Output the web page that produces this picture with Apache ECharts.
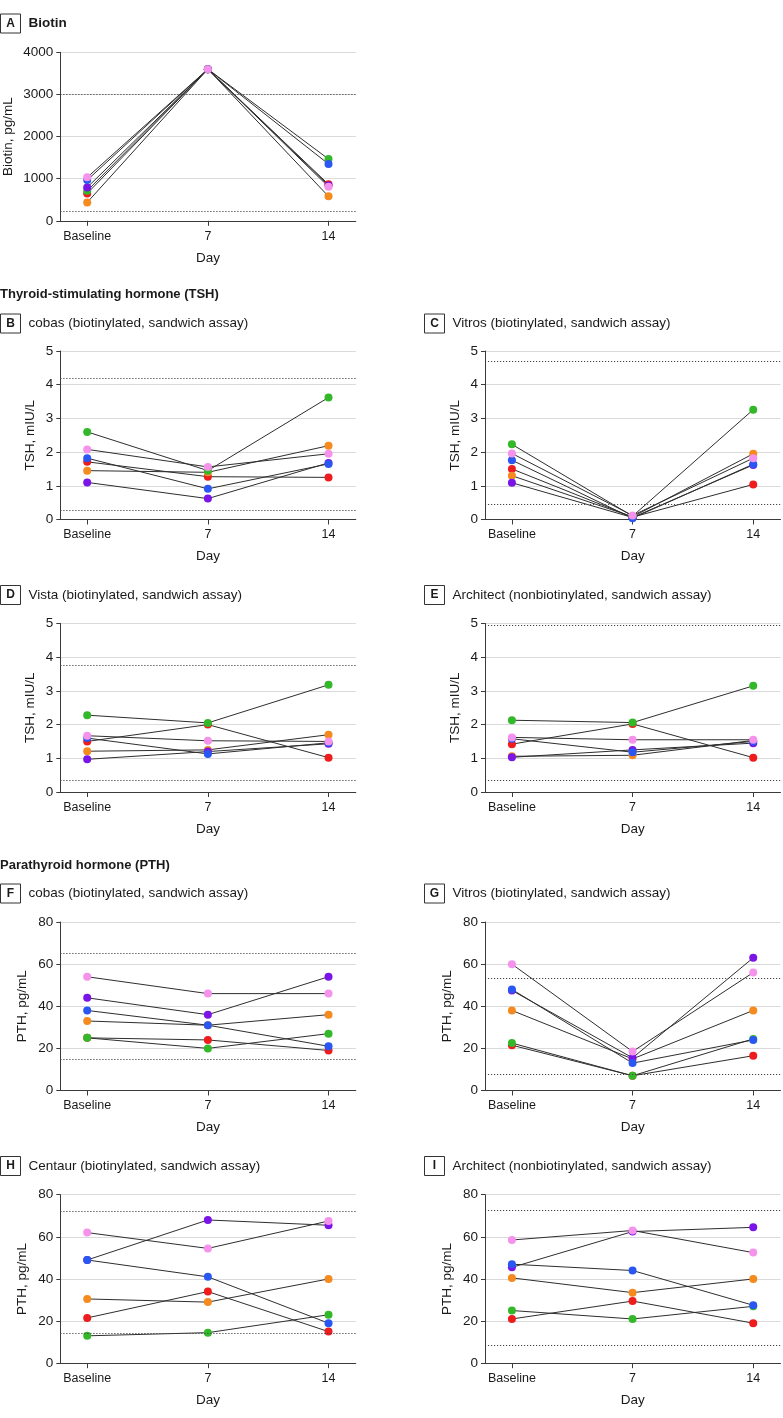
<!DOCTYPE html>
<html><head><meta charset="utf-8">
<script src="https://cdn.jsdelivr.net/npm/echarts@6/dist/echarts.min.js"></script>
<style>html,body{margin:0;padding:0;background:#fff}#c{width:783px;height:1418px}</style>
</head><body><div id="c"></div>
<script>
// ---------- DATA ----------
const xLabels = ['Baseline', '7', '14'];
const participants = ['red', 'orange', 'green', 'purple', 'blue', 'pink'];

// each participant: [baseline, day 7, day 14]
const biotin = {
  red: [651, 3600, 865], orange: [437, 3600, 580], green: [713, 3600, 1466],
  purple: [793, 3600, 840], blue: [967, 3600, 1347], pink: [1031, 3600, 808]
};
const tshCobas = {
  red: [1.71, 1.27, 1.25], orange: [1.45, 1.40, 2.19], green: [2.60, 1.45, 3.62],
  purple: [1.10, 0.62, 1.68], blue: [1.82, 0.91, 1.65], pink: [2.08, 1.56, 1.95]
};
const tshVitros = {
  red: [1.50, 0.07, 1.04], orange: [1.30, 0.08, 1.95], green: [2.23, 0.10, 3.26],
  purple: [1.09, 0.06, 1.62], blue: [1.76, 0.04, 1.64], pink: [1.96, 0.12, 1.82]
};
const tshVista = {
  red: [1.50, 2.00, 1.02], orange: [1.21, 1.25, 1.70], green: [2.28, 2.05, 3.18],
  purple: [0.97, 1.20, 1.43], blue: [1.60, 1.13, 1.46], pink: [1.67, 1.52, 1.50]
};
const tshArchitect = {
  red: [1.42, 2.02, 1.02], orange: [1.06, 1.09, 1.53], green: [2.13, 2.06, 3.15],
  purple: [1.03, 1.25, 1.45], blue: [1.58, 1.18, 1.50], pink: [1.62, 1.55, 1.55]
};
const pthCobas = {
  red: [25, 24, 19], orange: [33, 31, 36], green: [25, 20, 27],
  purple: [44, 36, 54], blue: [38, 31, 21], pink: [54, 46, 46]
};
const pthVitros = {
  red: [21.5, 7, 16.5], orange: [38, 15, 38], green: [22.5, 7, 24.5],
  purple: [47.5, 15.5, 63], blue: [48, 13, 24], pink: [60, 18.5, 56]
};
const pthCentaur = {
  red: [21.5, 34, 15], orange: [30.5, 29, 40], green: [13, 14.5, 23],
  purple: [49, 68, 65.5], blue: [49, 41, 19], pink: [62, 54.5, 67.5]
};
const pthArchitect = {
  red: [21, 29.5, 19], orange: [40.5, 33.5, 40], green: [25, 21, 27],
  purple: [45.5, 62.5, 64.5], blue: [47, 44, 27.5], pink: [58.5, 63, 52.5]
};
// reference range limits (dotted lines)
const refBiotin = [220, 3000];
const refTshCobas = [0.27, 4.2];
const refTshVitros = [0.46, 4.7];
const refTshVista = [0.36, 3.75];
const refTshArchitect = [0.35, 4.95];
const refPthCobas = [15, 65];
const refPthVitros = [7.5, 53.5];
const refPthCentaur = [14, 72];
const refPthArchitect = [8.5, 72.5];

const yTicksBiotin = {max: 4000, step: 1000};
const yTicksTsh = {max: 5, step: 1};
const yTicksPth = {max: 80, step: 20};

// ---------- STYLE / LAYOUT ----------
const FONT = "'Liberation Sans', Arial, sans-serif";
const colors = {
  red: '#ee1c1c', orange: '#f58a1f', green: '#33b82a',
  purple: '#7b14e6', blue: '#2a57f2', pink: '#f592ec'
};
const LX = 60.3, RX = 485, GW = 295.5, GH = 168.5;

const panels = [
  {L: 'A', t: 'Biotin', bold: true, d: biotin, r: refBiotin, y: yTicksBiotin, n: 'Biotin, pg/mL', gap: 45, x: LX, top: 52.3, hy: 23.5},
  {L: 'B', t: 'cobas (biotinylated, sandwich assay)', d: tshCobas, r: refTshCobas, y: yTicksTsh, n: 'TSH, mIU/L', gap: 23, x: LX, top: 351, hy: 323.5},
  {L: 'C', t: 'Vitros (biotinylated, sandwich assay)', d: tshVitros, r: refTshVitros, y: yTicksTsh, n: 'TSH, mIU/L', gap: 23, x: RX, top: 351, hy: 323.5},
  {L: 'D', t: 'Vista (biotinylated, sandwich assay)', d: tshVista, r: refTshVista, y: yTicksTsh, n: 'TSH, mIU/L', gap: 23, x: LX, top: 623.5, hy: 595},
  {L: 'E', t: 'Architect (nonbiotinylated, sandwich assay)', d: tshArchitect, r: refTshArchitect, y: yTicksTsh, n: 'TSH, mIU/L', gap: 23, x: RX, top: 623.5, hy: 595},
  {L: 'F', t: 'cobas (biotinylated, sandwich assay)', d: pthCobas, r: refPthCobas, y: yTicksPth, n: 'PTH, pg/mL', gap: 31, x: LX, top: 922, hy: 893.5},
  {L: 'G', t: 'Vitros (biotinylated, sandwich assay)', d: pthVitros, r: refPthVitros, y: yTicksPth, n: 'PTH, pg/mL', gap: 31, x: RX, top: 922, hy: 893.5},
  {L: 'H', t: 'Centaur (biotinylated, sandwich assay)', d: pthCentaur, r: refPthCentaur, y: yTicksPth, n: 'PTH, pg/mL', gap: 31, x: LX, top: 1194.7, hy: 1166},
  {L: 'I', t: 'Architect (nonbiotinylated, sandwich assay)', d: pthArchitect, r: refPthArchitect, y: yTicksPth, n: 'PTH, pg/mL', gap: 31, x: RX, top: 1194.7, hy: 1166}
];

const grid = [], xAxis = [], yAxis = [], series = [], graphic = [];
const axisColor = '#3a3a3a';

function txt(x, y, s, size, bold, align) {
  return {type: 'text', silent: true, style: {x: x, y: y, text: s, fill: '#1a1a1a',
    font: (bold ? 'bold ' : '') + size + 'px ' + FONT, textAlign: align || 'left',
    textVerticalAlign: 'middle', verticalAlign: 'middle'}};
}

graphic.push(txt(0, 294, 'Thyroid-stimulating hormone (TSH)', 13, true));
graphic.push(txt(0, 865, 'Parathyroid hormone (PTH)', 13, true));

panels.forEach((p, i) => {
  const bx = p.x === LX ? 0.5 : 424.5;
  graphic.push({type: 'rect', silent: true, shape: {x: bx, y: p.hy - 9.5, width: 20, height: 19},
    style: {fill: '#fff', stroke: '#333', lineWidth: 1}});
  graphic.push(txt(bx + 10, p.hy, p.L, 12, true, 'center'));
  graphic.push(txt(bx + 28, p.hy, p.t, 13.5, !!p.bold));

  grid.push({left: p.x, top: p.top, width: GW, height: GH});
  xAxis.push({
    gridIndex: i, type: 'value', min: -0.223, max: 2.226,
    axisLine: {show: true, onZero: false, lineStyle: {color: axisColor, width: 1}},
    axisTick: {show: true, customValues: [0, 1, 2], length: 5, lineStyle: {color: axisColor}},
    axisLabel: {customValues: [0, 1, 2], formatter: v => xLabels[Math.round(v)],
      fontSize: 12.5, color: '#1a1a1a', margin: 9, fontFamily: FONT},
    splitLine: {show: false},
    name: 'Day', nameLocation: 'middle', nameGap: 30,
    nameTextStyle: {fontSize: 13.5, color: '#1a1a1a', fontFamily: FONT}
  });
  yAxis.push({
    gridIndex: i, type: 'value', min: 0, max: p.y.max, interval: p.y.step,
    axisLine: {show: true, onZero: false, lineStyle: {color: axisColor, width: 1}},
    axisTick: {show: true, length: 4, lineStyle: {color: axisColor}},
    axisLabel: {fontSize: 13.5, color: '#1a1a1a', margin: 7, fontFamily: FONT,
      formatter: v => String(v)},
    splitLine: {show: true, lineStyle: {color: '#dadada', width: 1}},
    name: p.n, nameLocation: 'middle', nameGap: p.gap,
    nameTextStyle: {fontSize: 13.5, color: '#1a1a1a', fontFamily: FONT}
  });
  participants.forEach((k, j) => {
    const s = {
      type: 'line', xAxisIndex: i, yAxisIndex: i, silent: true, animation: false,
      data: p.d[k].map((v, t) => [t, v]), symbol: 'none',
      lineStyle: {color: '#2e2e2e', width: 1}, z: 2
    };
    if (j === 0) {
      s.markLine = {silent: true, symbol: 'none', animation: false,
        label: {show: false},
        lineStyle: {type: [1.2, 1.8], color: '#444', width: 1},
        data: p.r.map(v => ({yAxis: v}))};
    }
    series.push(s);
  });
  participants.forEach(k => {
    series.push({
      type: 'scatter', xAxisIndex: i, yAxisIndex: i, silent: true, animation: false,
      data: p.d[k].map((v, t) => [t, v]), symbolSize: 8,
      itemStyle: {color: colors[k], opacity: 1}, z: 3
    });
  });
});

const chart = echarts.init(document.getElementById('c'), null, {renderer: 'canvas'});
chart.setOption({animation: false, backgroundColor: '#fff', grid, xAxis, yAxis, series, graphic});
</script></body></html>
